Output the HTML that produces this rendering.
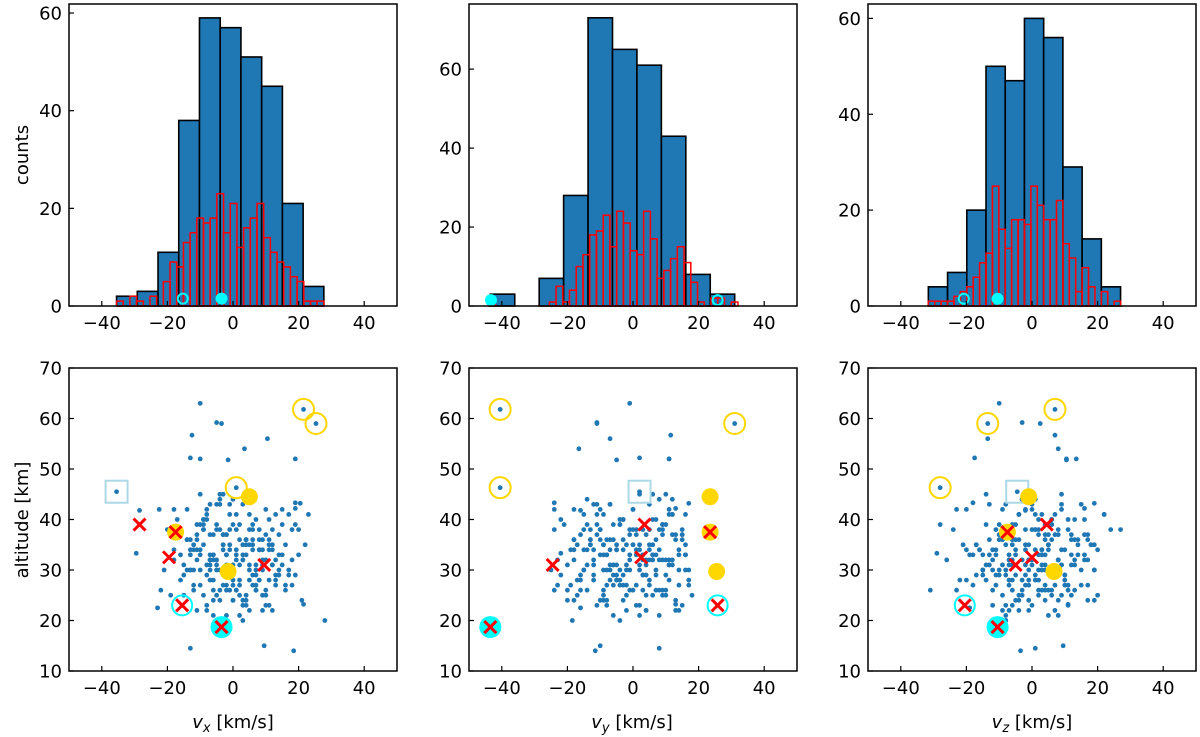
<!DOCTYPE html>
<html><head><meta charset="utf-8"><style>
html,body{margin:0;padding:0;background:#fff;}
svg{display:block;font-family:"DejaVu Sans","Liberation Sans",sans-serif;}
</style></head><body>
<svg id="fig" width="1200" height="737" viewBox="0 0 1200 737" xmlns="http://www.w3.org/2000/svg">
<text x="0" y="0" transform="translate(28,155) rotate(-90)" text-anchor="middle" font-size="18">counts</text>
<text x="0" y="0" transform="translate(28,520) rotate(-90)" text-anchor="middle" font-size="18">altitude [km]</text>
<text x="233" y="728" text-anchor="middle" font-size="18"><tspan font-style="italic">v</tspan><tspan font-style="italic" font-size="13" dy="4">x</tspan><tspan dy="-4"> [km/s]</tspan></text>
<text x="632" y="728" text-anchor="middle" font-size="18"><tspan font-style="italic">v</tspan><tspan font-style="italic" font-size="13" dy="4">y</tspan><tspan dy="-4"> [km/s]</tspan></text>
<text x="1032" y="728" text-anchor="middle" font-size="18"><tspan font-style="italic">v</tspan><tspan font-style="italic" font-size="13" dy="4">z</tspan><tspan dy="-4"> [km/s]</tspan></text>
</svg>
<script>
// ---- histogram data ----
const histRangeX = [[-35.5, 27.7], [-43.5, 31], [-31.6, 27]];
const redRangeX = [[-35.5, 27.7], [-44, 32], [-31.6, 27]];
const histBlueX = [2, 3, 11, 38, 59, 57, 51, 45, 21, 4];
const histBlueY = [3, 0, 7, 28, 73, 65, 61, 43, 8, 3];
const histBlueZ = [4, 7, 20, 50, 47, 60, 56, 29, 14, 4];
const histRedX = [1,0,2,1,0,2,0,5,9,8,13,15,18,17,18,23,15,21,12,16,18,21,14,11,9,8,6,5,1,1,1];
const histRedY = [2,0,0,0,0,0,0,0,0,1,5,1,4,10,13,18,19,23,15,24,21,14,13,24,17,7,9,12,15,11,6,1,0,2,2,0,1];
const histRedZ = [1,1,1,1,2,3,4,6,9,11,25,16,12,18,18,17,25,21,18,18,22,13,10,3,8,4,0,3,0,1];
const histYMax = [61.85, 76.5, 63];
const histCyanOpen = [-15.3, 25.8, -20.8];
const histCyanFilled = [-3.5, -43.3, -10.5];
const histYTicks = [0, 20, 40, 60];
const xTicks = [-40, -20, 0, 20, 40];
const altTicks = [10, 20, 30, 40, 50, 60, 70];

// ---- scatter data: vx, vy, vz, altitude ----
const stars = [
[-10,-1,-10,63],[-5,-11,-3,59.2],[-3.5,-11,2.5,59],[-12.5,11.5,7,56.7],[10.5,-7,-13.5,56],[3.5,-16.5,8,54],
[-13,2,-17.5,52.2],[-10,11,13.5,52],[-1.5,-5,10.5,51.8],[19,11,10.5,52],[18.5,-11.5,-3.5,14],[-13,8,1,14.5],[9.5,-10,9.5,15],
[-28.5,-16,-2,41.8],[-22.5,-24,-23,42],[-18,-18,-20,42],[-29.5,-22,-29,33.3],[-23,-16,-19,22.5],[28,-18.5,-8,20],[23,16,22,41],[21.5,13,11,23.2],[19,-24,-18,43.3],[20.5,17,19,43.2],[19,13,16,42.2],
[-2,-8,3,33],[4,-3,-6,36],[-7,5,1,28],[9,-12,4,31],[-4,1,-9,38],[1,7,6,26],[-11,-5,-2,34],[6,3,10,29],[-1,-15,-4,41],[12,2,-1,35],
[-6,-9,8,24],[3,12,-12,32],[-14,-1,5,30],[7,-6,-7,27],[-3,4,12,37],[15,-10,2,33],[-9,9,-5,39],[0,-2,0,31],[5,14,7,22],[-12,-13,-8,35],
[10,6,-3,25],[-5,-4,15,30],[2,-18,-10,36],[-8,0,9,42],[13,-7,-14,28],[-1,10,3,26],[8,-1,-11,38],[-16,3,4,33],[4,-11,11,23],[-3,16,-6,35],
[11,-4,6,40],[-10,-8,-1,27],[1,2,-16,34],[6,-14,1,44],[-7,11,13,31],[17,-3,-2,29],[-2,-6,5,21],[3,5,-8,43],[-13,-10,17,36],[9,8,0,32],
[-4,-16,-12,26],[14,1,8,37],[0,13,-4,24],[-9,-3,2,40],[7,-9,19,30],[-6,6,-7,33],[2,-5,-20,28],[-15,9,6,25],[12,-12,-5,34],[-1,0,11,38],
[5,-20,-2,31],[-11,4,-9,22],[8,15,4,36],[-5,-7,-13,43],[16,-2,10,27],[-3,7,1,29],[4,-13,-17,35],[-8,12,7,41],[10,-8,-6,23],[1,3,14,33],
[-12,-15,3,30],[6,10,-10,39],[-2,-1,2,26],[13,5,-3,32],[-7,-11,16,37],[3,-4,-8,20],[-10,8,5,34],[11,-17,-1,28],[-4,2,-14,45],[7,11,9,31],
[-14,-6,-4,36],[2,-9,12,25],[-6,14,-11,33],[15,0,0,42],[-1,-12,7,29],[9,4,-7,22],[-9,-2,18,35],[5,9,-2,38],[-3,-19,4,27],[12,-5,-9,31],
[-8,6,13,40],[0,-10,-5,24],[8,1,3,34],[-13,17,-15,30],[4,-7,6,36],[-5,3,-1,32],[10,-14,11,26],[-11,-4,-6,39],[2,8,8,21],[-2,-16,-10,37],
[14,7,2,30],[-7,-1,-19,33],[6,-3,15,27],[-4,12,-3,44],[11,-9,5,35],[-15,2,9,31],[3,15,-12,23],[-9,-13,1,38],[7,-6,-8,29],[-1,5,20,34],
[13,-11,-4,41],[-6,-5,10,28],[1,10,-6,32],[-12,0,4,26],[9,-18,-13,36],[-3,9,7,37],[5,-2,-15,30],[-10,-9,12,33],[12,13,-1,22],[-5,-14,6,39],
[4,4,-9,25],[-8,-7,3,31],[16,6,14,35],[0,-4,-7,28],[-14,11,-2,42],[8,-15,9,34],[-2,1,-18,27],[6,-10,2,38],[-7,16,-10,30],[3,-8,17,24],
[-11,7,-5,36],[10,-1,8,32],[-4,-12,0,43],[14,3,-11,29],[-1,-17,5,35],[7,9,-3,26],[-9,-3,11,40],[2,-6,-14,31],[-6,13,4,37],[11,2,-8,23],
[-13,-8,16,33],[5,-16,-6,28],[-3,6,9,45],[9,-5,1,34],[-10,14,-12,30],[0,-11,6,39],[13,-4,-2,27],[-7,4,13,32],[4,-13,-9,36],[-5,10,2,25],
[17,-7,7,30],[-12,-18,-16,34],[1,11,3,41],[-8,-2,-4,22],[6,5,18,35],[-2,-14,-7,31],[12,8,0,38],[-15,-5,10,29],[3,1,-13,33],[-6,-9,5,26],
[10,12,-10,37],[-1,-7,15,43],[8,-12,-3,28],[-11,9,8,32],[5,0,-17,35],[-4,-20,4,24],[15,4,-6,31],[-9,-10,1,38],[2,14,11,27],[-3,-3,-11,34],
[7,7,6,40],[-13,-15,-1,30],[11,-8,13,36],[-6,2,-8,21],[4,16,3,33],[-10,-6,-14,39],[9,-17,9,25],[0,8,-3,44],[-7,-12,17,32],[13,10,-5,29],
[-2,-1,2,37],[6,-19,-12,34],[-12,5,7,27],[3,-5,-2,35],[-5,12,12,31],[10,-10,-9,42],[-8,1,0,23],[1,-15,8,38],[14,6,-15,33],[-4,-8,4,30],
[7,3,-6,26],[-14,13,14,36],[5,-9,1,41],[-1,4,-10,29],[11,-14,10,34],[-9,-2,-4,25],[2,9,6,39],[-6,-18,-7,32],[8,11,2,28],[-3,0,19,35],
[12,-6,-13,31],[-11,15,5,37],[4,-3,-1,24],[-7,-11,9,43],[9,2,-8,30],[-13,-7,3,34],[0,17,-11,27],[6,-13,12,36],[-2,7,-5,33],[15,-4,4,39],
[-8,-16,-15,29],[3,6,8,32],[-10,10,-2,45],[1,-20,13,26],[-5,3,-6,38],[22,-9,-21,35],[-20,5,-24,38],[-17,-22,16,40],[18,-24,24,38],
[-18,-23,-26,32],[20,15,27,38],[-22,8,-31,26],[19,-21,-28,39],[-19,18,20,25],[21,-18,19,24],[-16,17,-22,28],[18,-23,17,27],[20,16,-18,33],
[-21,-25,19,30],[17,12,22,41],[-18,14,-20,34],[19,-22,-17,29],[18,11,16,32],[-17,15,17,37],[16,-24,-23,26],
[21.5,-40.5,7,61.8],[25.3,31,-13.5,59],[1,-40.5,-28,46.3],[-35.5,2,-4.5,45.5],[-3.5,-43.5,-10.5,18.7],[-15.5,25.8,-20.5,23]
];
const yellowOpen = [[21.5,-40.5,7,61.8],[25.3,31,-13.5,59],[1,-40.5,-28,46.3]];
const yellowFilled = [[5,23.5,-1,44.5],[-17.5,23.5,-7.5,37.5],[-1.5,25.5,6.7,29.7]];
const redCross = [[-28.5,3.5,4.5,39],[-19.5,2.5,0,32.5],[9.5,-24.5,-5,31],[-17.5,23.5,-7.5,37.5],[-15.5,25.8,-20.5,23],[-3.5,-43.5,-10.5,18.7]];
const cyanOpen = [[-15.5,25.8,-20.5,23]];
const cyanFilled = [[-3.5,-43.5,-10.5,18.7]];
const squareMark = [[-35.5,2,-4.5,45.5]];

const NS = "http://www.w3.org/2000/svg";
const svg = document.getElementById('fig');
const lefts = [69, 469, 868], W = 328;
const topRow = [4, 306], botRow = [368, 671];
function mk(tag, attrs, parent) {
  const e = document.createElementNS(NS, tag);
  for (const k in attrs) e.setAttribute(k, attrs[k]);
  (parent || svg).appendChild(e);
  return e;
}
function xs(p) { return v => lefts[p] + (v + 50) / 100 * W; }

function axisFrame(g, p, y0, y1, yFn, yT, name) {
  const X = xs(p);
  xTicks.forEach(t => {
    const tk = mk('line', {x1: X(t), x2: X(t), y1: y1, y2: y1 - 5, stroke: '#000', 'stroke-width': 1.2}, g);
    
    
    const tl = mk('text', {x: X(t), y: y1 + 23, 'text-anchor': 'middle', 'font-size': 18}, g);
    
    
    tl.textContent = (t < 0 ? '\u2212' + (-t) : t);
  });
  yT.forEach(t => {
    const y = yFn(t);
    const tk = mk('line', {x1: lefts[p], x2: lefts[p] + 5, y1: y, y2: y, stroke: '#000', 'stroke-width': 1.2}, g);
    
    
    const tl = mk('text', {x: lefts[p] - 7, y: y + 6.5, 'text-anchor': 'end', 'font-size': 18}, g);
    
    
    tl.textContent = t;
  });
  const fr = mk('rect', {x: lefts[p], y: y0, width: W, height: y1 - y0, fill: 'none', stroke: '#000', 'stroke-width': 1.5}, g);
  
  
}

const blues = [histBlueX, histBlueY, histBlueZ];
const reds = [histRedX, histRedY, histRedZ];
const comp = ['vx', 'vy', 'vz'];
for (let p = 0; p < 3; p++) {
  const g = mk('g', {});
  
  
  const X = xs(p);
  const Y = v => topRow[1] - v / histYMax[p] * (topRow[1] - topRow[0]);
  const [a, b] = histRangeX[p];
  const bw = (b - a) / blues[p].length;
  blues[p].forEach((c, i) => {
    if (c <= 0) return;
    const r = mk('rect', {x: X(a + i * bw), y: Y(c), width: X(a + (i + 1) * bw) - X(a + i * bw), height: Y(0) - Y(c), fill: '#1f77b4', stroke: '#000', 'stroke-width': 1.6}, g);
    
    
  });
  const [ra, rb] = redRangeX[p];
  const rw = (rb - ra) / reds[p].length;
  reds[p].forEach((c, i) => {
    if (c <= 0) return;
    const r = mk('rect', {x: X(ra + i * rw), y: Y(c), width: X(ra + (i + 1) * rw) - X(ra + i * rw), height: Y(0) - Y(c), fill: 'none', stroke: '#ff0000', 'stroke-width': 1.5}, g);
    
    
  });
  const co = mk('circle', {cx: X(histCyanOpen[p]), cy: Y(1.5), r: 5, fill: 'none', stroke: '#00ffff', 'stroke-width': 2}, g);
  
  
  const cf = mk('circle', {cx: X(histCyanFilled[p]), cy: Y(1.5), r: 6, fill: '#00ffff'}, g);
  
  
  axisFrame(g, p, topRow[0], topRow[1], Y, histYTicks, 'hist-' + comp[p]);
}

for (let p = 0; p < 3; p++) {
  const g = mk('g', {});
  
  
  const X = xs(p);
  const Y = v => botRow[1] - (v - 10) / 60 * (botRow[1] - botRow[0]);
  stars.forEach(s => {
    const c = mk('circle', {cx: X(s[p]), cy: Y(s[3]), r: 2.4, fill: '#1f77b4'}, g);
    
    
  });
  squareMark.forEach(s => {
    const r = mk('rect', {x: X(s[p]) - 11, y: Y(s[3]) - 11, width: 22, height: 22, fill: 'none', stroke: '#add8e6', 'stroke-width': 2}, g);
    
    
  });
  cyanFilled.forEach(s => {
    const c = mk('circle', {cx: X(s[p]), cy: Y(s[3]), r: 11, fill: '#00ffff'}, g);
    
    
  });
  cyanOpen.forEach(s => {
    const c = mk('circle', {cx: X(s[p]), cy: Y(s[3]), r: 10, fill: 'none', stroke: '#00ffff', 'stroke-width': 2}, g);
    
    
  });
  yellowFilled.forEach(s => {
    const c = mk('circle', {cx: X(s[p]), cy: Y(s[3]), r: 8.5, fill: '#ffd700'}, g);
    
    
  });
  yellowOpen.forEach(s => {
    const c = mk('circle', {cx: X(s[p]), cy: Y(s[3]), r: 10.5, fill: 'none', stroke: '#ffd700', 'stroke-width': 2}, g);
    
    
  });
  redCross.forEach(s => {
    const cx = X(s[p]), cy = Y(s[3]), d = 6;
    const pth = mk('path', {d: `M${cx-d},${cy-d}L${cx+d},${cy+d}M${cx-d},${cy+d}L${cx+d},${cy-d}`, stroke: '#ff0000', 'stroke-width': 3, fill: 'none'}, g);
    
    
  });
  axisFrame(g, p, botRow[0], botRow[1], Y, altTicks, 'scatter-' + comp[p]);
}
</script>
</body></html>
